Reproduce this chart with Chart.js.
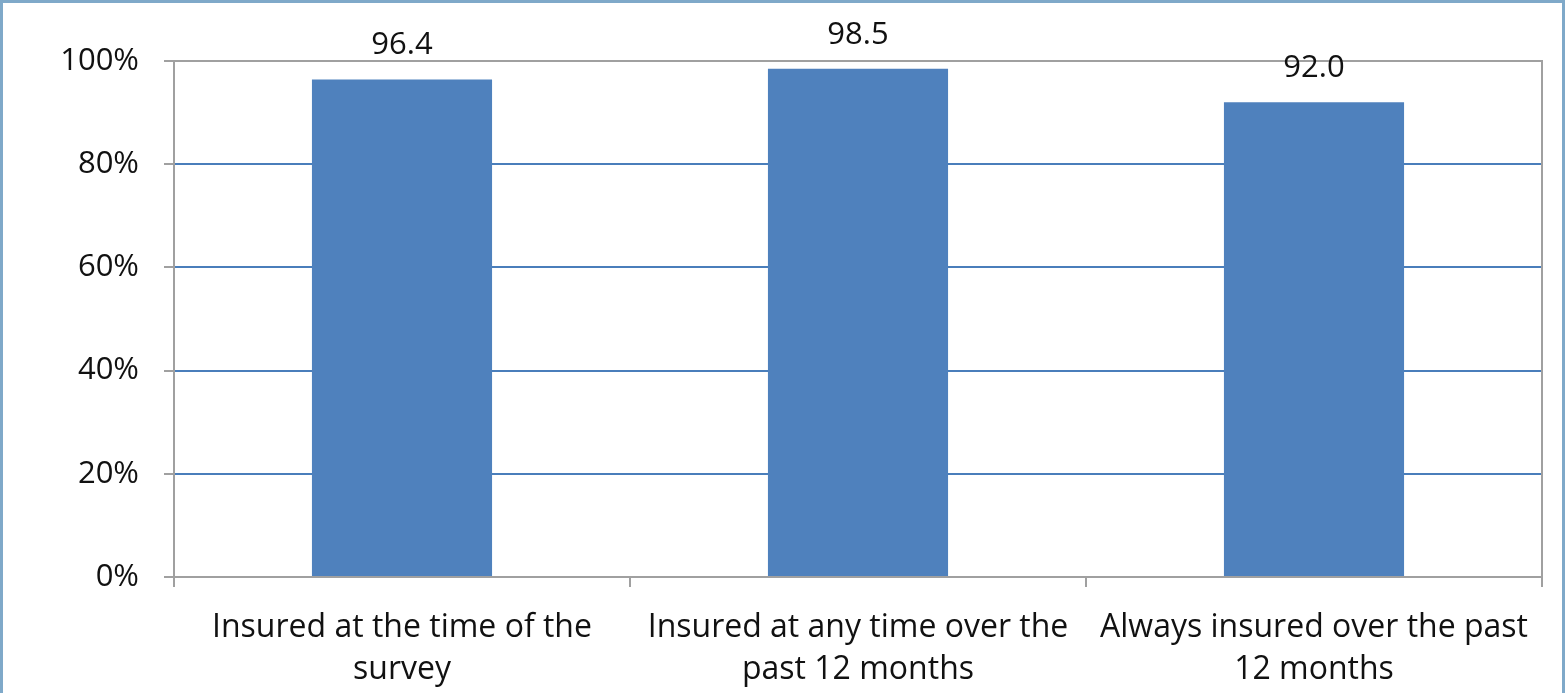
<!DOCTYPE html>
<html>
<head>
<meta charset="utf-8">
<script src="https://cdn.jsdelivr.net/npm/chart.js@4/dist/chart.umd.min.js"></script>
<style>
html,body{margin:0;padding:0;background:#fff;}
#wrap{position:relative;width:1565px;height:693px;box-sizing:border-box;border:3px solid #7FA9C9;border-bottom:none;}
#wrap canvas{position:absolute;left:-3px;top:-3px;}
</style>
</head>
<body>
<div id="wrap"><canvas id="c" width="1565" height="693"></canvas></div>
<script>
const categories = [
  ["Insured at the time of the", "survey"],
  ["Insured at any time over the", "past 12 months"],
  ["Always insured over the past", "12 months"]
];
const values = [96.4, 98.5, 92.0];
const yTicks = [0, 20, 40, 60, 80, 100];

const FONT = "'Open Sans', 'DejaVu Sans', sans-serif";

const valueLabels = {
  id: 'valueLabels',
  afterDatasetsDraw(chart) {
    const ctx = chart.ctx;
    const meta = chart.getDatasetMeta(0);
    ctx.save();
    ctx.font = "31px " + FONT;
    ctx.fillStyle = "#111";
    ctx.textAlign = "center";
    ctx.textBaseline = "middle";
    meta.data.forEach((bar, i) => {
      ctx.fillText(values[i].toFixed(1), bar.x, bar.y - 34);
    });
    ctx.restore();
  }
};

const plotBorder = {
  id: 'plotBorder',
  beforeDatasetsDraw(chart) {
    const a = chart.chartArea;
    const ctx = chart.ctx;
    ctx.save();
    ctx.strokeStyle = "#A0A0A0";
    ctx.lineWidth = 2;
    ctx.beginPath();
    ctx.moveTo(a.left, a.top);
    ctx.lineTo(a.right, a.top);
    ctx.lineTo(a.right, a.bottom + 10);
    ctx.stroke();
    ctx.restore();
  }
};

new Chart(document.getElementById('c'), {
  type: 'bar',
  data: {
    labels: categories,
    datasets: [{
      data: values,
      backgroundColor: '#4F81BD',
      borderWidth: 0,
      barPercentage: 0.79,
      categoryPercentage: 0.5
    }]
  },
  options: {
    responsive: false,
    animation: false,
    devicePixelRatio: 1,
    layout: { padding: { top: 61, right: 23, left: 0, bottom: 0 } },
    plugins: { legend: { display: false }, tooltip: { enabled: false } },
    scales: {
      y: {
        min: 0, max: 100,
        afterBuildTicks(s) { s.ticks = yTicks.map(v => ({ value: v })); },
        afterFit(s) { s.width = 174; },
        ticks: {
          callback: v => v + '%',
          font: { family: FONT, size: 31 },
          color: '#111',
          padding: 25
        },
        grid: {
          color: ctx => (ctx.tick && (ctx.tick.value === 0 || ctx.tick.value === 100)) ? 'rgba(0,0,0,0)' : '#4A7EBB',
          tickColor: '#A0A0A0',
          tickLength: 10,
          lineWidth: 2
        },
        border: { display: true, color: '#A0A0A0', width: 2 }
      },
      x: {
        afterFit(s) { s.height = 116; },
        ticks: {
          font: { family: FONT, size: 32, lineHeight: 1.31 },
          color: '#111',
          padding: 20,
          maxRotation: 0,
          autoSkip: false
        },
        grid: {
          offset: true,
          drawOnChartArea: false,
          tickColor: '#A0A0A0',
          tickLength: 10,
          lineWidth: 2
        },
        border: { display: true, color: '#A0A0A0', width: 2 }
      }
    }
  },
  plugins: [plotBorder, valueLabels]
});
</script>
</body>
</html>
